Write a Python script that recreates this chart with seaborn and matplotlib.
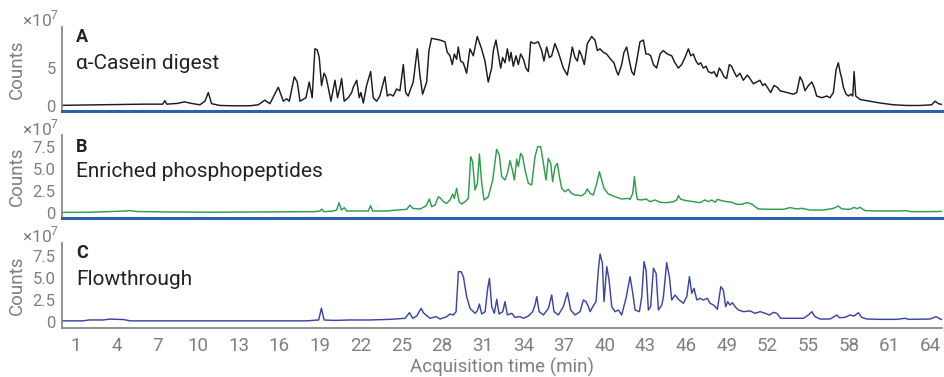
import matplotlib
matplotlib.use("Agg")
import matplotlib.pyplot as plt
import seaborn as sns

# Retention time (min) and intensity (x10^7 counts)
casein_time = [0, 2, 4, 6, 7.4, 7.55, 7.7, 8.5, 9.0, 9.5,
               10.14, 10.51, 10.76, 11.0, 11.62, 12.6, 13.83, 14.44, 14.93, 15.3, 15.92, 16.29, 16.53, 16.73,
               17.1, 17.32, 17.52, 17.96, 18.2, 18.42, 18.62, 18.79, 18.94, 19.11, 19.29, 19.43, 19.6, 19.8,
               20.1, 20.29, 20.47, 20.59, 20.78, 21.08, 21.33, 21.45, 21.7, 21.89, 22.01, 22.19, 22.43, 22.73,
               22.92, 23.17, 23.41, 23.61, 23.78, 23.96, 24.15, 24.4, 24.64, 24.89, 25.14, 25.31, 25.5, 25.68,
               25.87, 26.17, 26.36, 26.56, 26.86, 27.03, 27.22, 27.84, 28.21, 28.38, 28.58, 28.75, 28.9, 29.07,
               29.19, 29.36, 29.56, 29.81, 30.05, 30.3, 30.59, 30.91, 31.16, 31.4, 31.65,
               31.78, 31.97, 32.14, 32.32, 32.46, 32.64, 32.81, 32.96, 33.08, 33.25, 33.45, 33.62, 33.79, 34.0,
               34.18, 34.36, 34.53, 34.77, 35.09, 35.34, 35.51, 35.71, 35.91, 36.08, 36.32, 36.57, 36.94, 37.23,
               37.43, 37.6, 37.8, 37.97, 38.12, 38.29, 38.49, 38.71, 39.03, 39.27, 39.45, 39.64, 39.89, 40.13,
               40.43, 40.67, 40.87, 40.99, 41.24, 41.41, 41.61, 41.81, 41.98, 42.15, 42.35, 42.59, 42.84, 43.03,
               43.21, 43.38, 43.58, 43.82, 44.07, 44.31, 44.61, 44.93, 45.17, 45.42, 45.66, 45.91, 46.16, 46.33,
               46.52, 46.72, 46.9, 47.07, 47.26, 47.46, 47.63, 47.88, 48.05, 48.25, 48.44, 48.61, 48.79, 48.98,
               49.18, 49.35, 49.52, 49.72, 49.97, 50.21, 50.51, 50.7, 50.95, 51.2, 51.44, 51.64, 51.81, 51.98,
               52.23, 52.47, 52.72,
               52.92, 53.41, 53.9, 54.15, 54.39, 54.59, 54.76, 55.01, 55.26, 55.43, 55.62, 55.99, 56.36, 56.61,
               56.85, 57.05, 57.22, 57.34, 57.47, 57.59, 57.79, 57.96, 58.13, 58.28, 58.38, 58.5, 58.82, 59.56,
               60.29, 61.28, 62.26, 63.24, 64.1, 64.35, 64.6, 64.96]
casein_counts = [0.15, 0.2, 0.25, 0.3, 0.3, 0.75, 0.3, 0.4, 0.6, 0.4,
                 0.22, 0.68, 1.8, 0.36, 0.13, 0.09, 0.09, 0.22, 0.81, 0.36, 2.48, 0.68, 0.99, 0.68,
                 3.83, 3.15, 0.68, 1.13, 3.15, 1.13, 7.43, 7.3, 6.3, 2.7, 4.28, 3.83, 2.48, 0.68,
                 3.38, 1.13, 2.48, 3.6, 0.68, 1.13, 1.8, 2.48, 3.38, 1.13, 1.8, 0.45, 2.7, 4.5,
                 1.13, 0.68, 1.35, 2.7, 3.83, 1.35, 1.58, 1.35, 2.25, 2.03, 5.4, 1.8, 1.35, 2.25,
                 3.15, 7.43, 4.05, 1.58, 3.15, 7.21, 8.78, 8.56, 8.33, 6.98, 6.53, 5.4, 6.76, 6.08,
                 7.66, 5.86, 5.63, 4.28, 7.43, 6.53, 9.01, 7.43, 5.86, 3.15, 4.95,
                 7.21, 8.56, 6.76, 4.95, 6.3, 5.63, 7.43, 5.86, 6.98, 5.18, 6.53, 5.4, 6.76, 6.08,
                 4.95, 4.5, 8.33, 8.11, 8.33, 7.21, 5.86, 7.66, 6.3, 6.53, 8.11, 6.98, 4.95, 4.05,
                 5.86, 7.66, 6.3, 5.86, 7.21, 6.53, 5.4, 8.11, 9.01, 8.56, 7.21, 7.43, 6.98, 6.76,
                 6.08, 5.63, 4.5, 4.05, 5.4, 6.98, 7.66, 5.86, 4.5, 4.05, 5.86, 8.33, 8.56, 6.76,
                 6.76, 6.53, 5.4, 4.95, 6.76, 7.21, 6.76, 6.53, 5.63, 4.95, 5.4, 6.3, 7.43, 6.53,
                 6.76, 5.86, 5.4, 5.63, 4.95, 5.18, 4.5, 4.28, 4.5, 3.83, 4.95, 4.5, 3.83, 3.6,
                 5.4, 5.18, 4.5, 3.83, 4.28, 3.38, 4.05, 3.6, 2.93, 3.15, 3.38, 2.7, 2.93, 2.48,
                 1.8, 2.7, 2.48,
                 2.03, 1.8, 1.58, 1.8, 3.83, 3.15, 2.03, 2.7, 3.15, 2.48, 1.35, 1.13, 1.35, 1.13,
                 1.8, 4.73, 5.63, 4.5, 3.6, 2.48, 1.58, 1.35, 1.58, 1.35, 4.5, 1.35, 0.9, 0.68,
                 0.45, 0.22, 0.13, 0.13, 0.22, 0.68, 0.36, 0.22]

phospho_time = [0, 2, 4.5, 5.0, 5.5, 8, 11, 14, 17.5,
                18.5, 19.0, 19.12, 19.29, 19.98, 20.22, 20.4, 20.57, 20.79, 20.96, 21.94, 22.56, 22.73, 22.88,
                23.91, 24.65, 25.39, 25.63, 25.83, 26.37, 26.81, 27.06, 27.23, 27.48, 27.72, 27.89, 28.09, 28.34,
                28.58, 28.78, 28.9, 29.07, 29.25, 29.44, 29.69, 29.93, 30.11, 30.25, 30.43, 30.6, 30.75, 30.92,
                31.09, 31.41, 31.73, 32.02, 32.22, 32.39, 32.64, 32.81, 33.01, 33.18, 33.33, 33.5, 33.62, 33.79,
                33.94, 34.11, 34.36, 34.6, 34.85, 35.05, 35.27, 35.47, 35.66, 35.83, 36.01, 36.15, 36.33, 36.5,
                36.65, 36.82, 37.06, 37.31, 37.55, 37.8, 38.29, 38.54, 38.71, 38.91, 39.15, 39.4, 39.6, 39.77,
                39.94, 40.26, 40.75, 41.24, 41.73,
                41.86, 42.06, 42.18, 42.3, 42.4, 42.72, 43.04, 43.33, 43.7, 44.07, 44.56, 45.06, 45.3, 45.42,
                45.6, 46.04, 46.53, 47.02, 47.39, 47.64, 47.88, 48.13, 48.3, 48.62, 48.99, 49.36, 49.73, 50.1,
                50.46, 50.83, 51.08, 51.32, 52.18, 53.17, 53.66, 54.15, 54.52, 55.13, 56.12, 56.86, 57.22, 57.47,
                58.08, 58.38, 58.58, 58.82, 59.19, 60.05, 61.53, 62.26, 62.51, 63.98, 64.97]
phospho_counts = [0.1, 0.12, 0.25, 0.3, 0.2, 0.15, 0.12, 0.15, 0.18,
                  0.18, 0.26, 0.48, 0.18, 0.26, 0.37, 1.2, 0.37, 0.63, 0.26, 0.26, 0.26, 0.86, 0.26,
                  0.26, 0.37, 0.45, 0.93, 0.56, 0.48, 0.82, 1.61, 0.75, 0.93, 1.87, 1.68, 1.31, 1.12,
                  1.5, 2.17, 1.68, 2.81, 1.31, 1.05, 1.31, 1.68, 6.38, 5.81, 2.62, 3.37, 6.68, 3.37,
                  1.5, 1.87, 3.75, 7.2, 6.56, 4.13, 3.75, 4.5, 5.93, 4.88, 3.75, 6.08, 5.25, 6.75,
                  6.38, 4.88, 3.37, 3.19, 6.38, 7.5, 7.5, 5.63, 3.75, 6.19, 5.63, 3.56, 5.25, 5.63,
                  4.13, 2.81, 2.43, 2.7, 2.25, 2.06, 1.98, 2.25, 2.73, 2.25, 2.06, 3.37, 4.69, 3.75,
                  2.81, 2.17, 1.87, 1.61, 1.68,
                  1.57, 2.25, 4.13, 2.44, 1.57, 1.5, 1.61, 1.31, 1.5, 1.24, 1.2, 1.31, 1.5, 1.99,
                  1.57, 1.42, 1.31, 1.2, 1.5, 1.31, 1.5, 1.24, 1.57, 1.42, 1.31, 1.24, 1.01, 1.01,
                  1.2, 1.05, 0.75, 0.49, 0.45, 0.45, 0.64, 0.49, 0.56, 0.37, 0.37, 0.56, 0.82, 0.49,
                  0.45, 0.67, 0.52, 0.67, 0.3, 0.26, 0.26, 0.3, 0.19, 0.19, 0.22]

flow_time = [0, 1.5, 2.0, 3.0, 3.5, 4.5, 5.0, 10, 15, 18, 18.9, 19.1, 19.3, 20, 21.21,
             22.68, 24.16, 25.27, 25.59, 25.83, 26.13, 26.45, 26.62, 26.81, 27.11, 27.55, 27.85, 28.34, 28.58,
             28.83, 29.03, 29.2, 29.4, 29.57, 29.81, 30.06, 30.43, 30.6, 30.75, 30.92, 31.17, 31.36, 31.49,
             31.66, 31.85, 32.03, 32.2, 32.47, 32.64, 32.81, 33.13, 33.38, 33.75, 33.99, 34.36, 34.68, 34.85,
             34.98, 35.15, 35.47, 35.84, 36.08, 36.25, 36.57, 36.94, 37.24, 37.48, 37.8, 38.17, 38.42, 38.61,
             38.79, 38.91, 39.11, 39.35, 39.52, 39.65, 39.82, 39.94, 40.14, 40.31, 40.51, 40.75, 41.0, 41.24,
             41.56,
             41.86, 42.06, 42.23, 42.55, 42.72, 42.89, 43.04, 43.21, 43.38, 43.58, 43.78, 43.95, 44.2, 44.32,
             44.56, 44.76, 44.93, 45.18, 45.42, 45.79, 46.04, 46.24, 46.41, 46.58, 46.78, 47.02, 47.27, 47.56,
             47.76, 48.01, 48.3, 48.55, 48.74, 48.91, 49.06, 49.23, 49.41, 49.6, 49.85, 50.22, 50.71, 51.08,
             51.45, 51.82, 52.13, 52.43, 52.68, 52.97, 53.66, 54.64, 55.01, 55.26, 55.5, 55.87, 56.61, 57.1,
             57.3, 57.71, 58.08, 58.38, 58.7, 58.94, 59.31, 60.29, 61.53, 62.14, 62.39, 63.98, 64.43, 64.72,
             64.97]
flow_counts = [0.1, 0.1, 0.2, 0.2, 0.3, 0.25, 0.1, 0.1, 0.1, 0.1, 0.2, 1.55, 0.2, 0.15, 0.2,
               0.2, 0.27, 0.39, 1.03, 0.39, 0.65, 1.53, 1.03, 0.77, 0.39, 0.58, 0.31, 0.58, 0.88,
               0.77, 1.15, 5.71, 5.71, 5.14, 2.86, 1.53, 0.96, 1.26, 2.02, 0.88, 1.15, 3.81, 4.95,
               1.72, 0.96, 2.56, 0.88, 1.15, 2.29, 0.77, 0.96, 0.5, 0.58, 0.39, 0.65, 1.15, 1.91,
               2.86, 1.15, 0.77, 1.53, 3.05, 1.15, 0.77, 1.72, 3.32, 1.34, 0.77, 1.15, 2.48, 2.29,
               1.72, 1.15, 1.72, 2.29, 5.9, 7.73, 6.67, 2.29, 6.29, 4.76, 1.72, 1.15, 1.34, 0.77,
               2.67,
               5.14, 3.24, 1.34, 1.15, 2.86, 6.86, 5.9, 1.34, 1.72, 6.1, 5.52, 1.34, 1.91, 2.86,
               6.74, 5.14, 2.48, 3.05, 2.56, 2.1, 2.86, 5.14, 3.24, 3.81, 2.48, 2.67, 2.48, 2.67,
               2.1, 1.91, 1.42, 4.0, 3.62, 1.72, 2.29, 1.91, 2.17, 1.72, 1.34, 1.15, 1.23, 0.96,
               1.15, 0.96, 0.77, 1.07, 0.96, 0.39, 0.39, 0.39, 0.77, 1.15, 0.58, 0.31, 0.31, 0.77,
               0.46, 0.5, 0.77, 0.65, 1.03, 0.5, 0.31, 0.27, 0.27, 0.39, 0.27, 0.31, 0.58, 0.31,
               0.2]

panel_letters = ["A", "B", "C"]
panel_names = ["α-Casein digest", "Enriched phosphopeptides", "Flowthrough"]
x_ticks = list(range(1, 65, 3))

sns.set_style("white")
plt.rcParams["font.family"] = ["Roboto", "DejaVu Sans"]
plt.rcParams["mathtext.fontset"] = "custom"
plt.rcParams["mathtext.rm"] = "Roboto"

gray = "#7f7f7f"
dark = "#222222"
blue_line = "#2d5fae"

fig = plt.figure(figsize=(9.45, 3.77), dpi=100)
axes = [fig.add_axes([0.0656, 0.7056, 0.9312, 0.2236]),
        fig.add_axes([0.0656, 0.4210, 0.9312, 0.2210]),
        fig.add_axes([0.0656, 0.1292, 0.9312, 0.2270])]

series = [(casein_time, casein_counts, "#1c1c1c"),
          (phospho_time, phospho_counts, "#2f9e4c"),
          (flow_time, flow_counts, "#3d46a6")]
ylims = [(-0.58, 10.28), (-0.56, 8.82), (-0.75, 9.02)]
yticks = [([0, 5], ["0", "5"]),
          ([0, 2.5, 5, 7.5], ["0", "2.5", "5.0", "7.5"]),
          ([0, 2.5, 5, 7.5], ["0", "2.5", "5.0", "7.5"])]
letter_y = [0.822, 0.80, 0.818]
name_y = [0.495, 0.50, 0.506]

for i, ax in enumerate(axes):
    t, c, col = series[i]
    sns.lineplot(x=t, y=c, ax=ax, color=col, linewidth=1.05)
    ax.set_xlim(-0.03, 64.86)
    ax.set_ylim(*ylims[i])
    ax.set_yticks(yticks[i][0], yticks[i][1])
    ax.tick_params(axis="y", colors=gray, labelsize=12, length=3, width=1, pad=1.5)
    ax.set_ylabel("Counts", color=gray, fontsize=13.5)
    ax.yaxis.set_label_coords(-0.041, 0.5)
    for s in ["top", "right"]:
        ax.spines[s].set_visible(False)
    ax.spines["left"].set_color(gray)
    ax.spines["left"].set_linewidth(1.2)
    ax.text(0.016, letter_y[i], panel_letters[i], transform=ax.transAxes,
            fontsize=13, fontweight="bold", color=dark, va="baseline")
    ax.text(0.016, name_y[i], panel_names[i], transform=ax.transAxes,
            fontsize=15, color=dark, va="baseline")
    ax.text(-0.046, 1.0, r"$\times10^{7}$", transform=ax.transAxes,
            fontsize=12.5, color=gray, va="baseline", ha="left")
    if i < 2:
        ax.spines["bottom"].set_color(blue_line)
        ax.spines["bottom"].set_linewidth(2.2)
        ax.set_xticks([])
        ax.set_xlabel("")
    else:
        ax.spines["bottom"].set_color(gray)
        ax.spines["bottom"].set_linewidth(1.2)
        ax.set_xticks(x_ticks)
        ax.tick_params(axis="x", colors=gray, labelsize=13.5, length=4, width=1, pad=2)
        ax.set_xlabel("Acquisition time (min)", color=gray, fontsize=13.5, labelpad=2)

fig.savefig("out.png", dpi=100)
